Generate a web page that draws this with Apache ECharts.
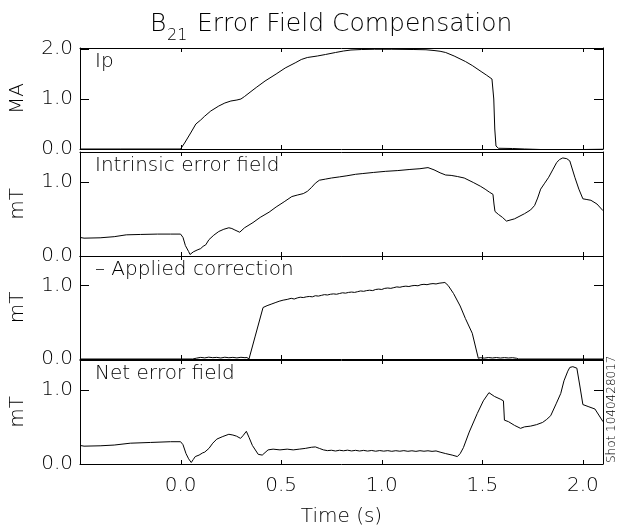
<!DOCTYPE html>
<html><head><meta charset="utf-8">
<script src="https://cdn.jsdelivr.net/npm/echarts@6/dist/echarts.min.js"></script>
<style>html,body{margin:0;padding:0;background:#fff}#c{width:619px;height:531px}</style>
</head><body><div id="c"></div>
<script>
// ---- data ----
const ipT=[-0.5,-0.3,0.0,0.02,0.05,0.076,0.1,0.118,0.15,0.19,0.22,0.25,0.28,0.30,0.318,0.35,0.376,0.42,0.475,0.52,0.573,0.60,0.63,0.68,0.72,0.77,0.81,0.847,0.9,0.965,1.05,1.16,1.22,1.26,1.29,1.318,1.36,1.416,1.45,1.494,1.52,1.548,1.553,1.557,1.562,1.568,1.58,1.65,1.71,1.75,1.79,1.9,2.0,2.1];
const ipV=[0.0,0.0,0.0,0.12,0.32,0.5,0.58,0.65,0.76,0.86,0.92,0.96,0.98,1.0,1.05,1.15,1.23,1.36,1.5,1.62,1.73,1.79,1.83,1.86,1.89,1.93,1.96,1.98,1.99,1.995,1.995,1.99,1.985,1.97,1.955,1.93,1.86,1.75,1.67,1.55,1.48,1.40,1.37,1.0,0.4,0.06,0.015,0.01,0.0,-0.005,-0.01,-0.01,-0.01,-0.005];

const intrT=[-0.5,-0.48,-0.4,-0.33,-0.27,-0.2,-0.114,-0.05,0.0,0.012,0.024,0.04,0.047,0.063,0.082,0.1,0.112,0.125,0.141,0.165,0.19,0.215,0.24,0.255,0.27,0.294,0.318,0.36,0.396,0.44,0.475,0.515,0.553,0.58,0.61,0.63,0.65,0.67,0.69,0.72,0.75,0.79,0.827,0.87,0.906,0.96,1.02,1.08,1.14,1.19,1.23,1.26,1.29,1.318,1.345,1.376,1.41,1.455,1.49,1.514,1.535,1.553,1.558,1.563,1.58,1.60,1.62,1.66,1.71,1.74,1.76,1.775,1.79,1.81,1.83,1.85,1.87,1.885,1.9,1.92,1.935,1.96,1.98,2.0,2.02,2.04,2.07,2.1];
const intrV=[0.25,0.24,0.245,0.26,0.285,0.29,0.295,0.295,0.295,0.25,0.14,0.06,0.02,0.055,0.08,0.1,0.13,0.15,0.22,0.28,0.33,0.36,0.38,0.37,0.35,0.32,0.38,0.45,0.52,0.59,0.66,0.73,0.80,0.82,0.84,0.87,0.92,0.98,1.02,1.035,1.05,1.065,1.08,1.10,1.11,1.125,1.14,1.15,1.165,1.175,1.19,1.16,1.12,1.09,1.085,1.07,1.05,0.99,0.94,0.90,0.86,0.83,0.70,0.60,0.56,0.52,0.47,0.50,0.57,0.62,0.68,0.78,0.90,0.98,1.06,1.16,1.26,1.30,1.32,1.31,1.28,1.06,0.90,0.77,0.76,0.75,0.70,0.61];

const applT=[-0.5,0.06,0.065,0.08,0.1,0.12,0.14,0.16,0.18,0.2,0.22,0.24,0.26,0.28,0.30,0.32,0.33,0.333,0.34,0.37,0.41,0.43,0.45,0.47,0.49,0.51,0.53,0.55,0.565,0.58,0.595,0.61,0.625,0.64,0.655,0.67,0.685,0.70,0.715,0.73,0.745,0.76,0.775,0.79,0.805,0.82,0.835,0.85,0.865,0.88,0.895,0.91,0.925,0.94,0.955,0.97,0.985,1.0,1.015,1.03,1.045,1.06,1.075,1.09,1.105,1.12,1.135,1.15,1.165,1.18,1.195,1.21,1.225,1.24,1.255,1.27,1.285,1.30,1.314,1.33,1.357,1.39,1.416,1.45,1.48,1.49,1.51,1.53,1.55,1.57,1.59,1.61,1.63,1.65,1.67,1.68,2.1];
const applV=[0,0,0.02,0.012,0.022,0.015,0.025,0.018,0.022,0.014,0.024,0.017,0.022,0.015,0.023,0.018,0.02,0.0,0.0,0.3,0.70,0.725,0.745,0.765,0.785,0.80,0.81,0.825,0.815,0.83,0.84,0.835,0.845,0.85,0.845,0.86,0.855,0.865,0.875,0.87,0.88,0.885,0.88,0.89,0.9,0.895,0.905,0.91,0.905,0.915,0.925,0.92,0.93,0.935,0.93,0.945,0.95,0.945,0.96,0.965,0.96,0.97,0.98,0.975,0.985,0.99,0.985,0.995,1.0,0.995,1.01,1.015,1.01,1.02,1.025,1.02,1.03,1.035,1.04,1.0,0.89,0.72,0.55,0.35,0.01,0.018,0.012,0.02,0.014,0.02,0.013,0.019,0.014,0.018,0.01,0,0];

const netT=[-0.5,-0.48,-0.4,-0.33,-0.25,-0.15,-0.05,0.0,0.012,0.027,0.04,0.053,0.063,0.073,0.092,0.11,0.12,0.141,0.16,0.18,0.21,0.24,0.26,0.278,0.298,0.31,0.327,0.34,0.357,0.386,0.406,0.435,0.46,0.494,0.53,0.56,0.59,0.62,0.65,0.67,0.69,0.71,0.73,0.75,0.77,0.79,0.81,0.83,0.85,0.87,0.89,0.91,0.93,0.95,0.97,0.99,1.01,1.03,1.05,1.07,1.09,1.11,1.13,1.15,1.17,1.19,1.21,1.23,1.25,1.27,1.29,1.318,1.35,1.376,1.39,1.406,1.435,1.475,1.505,1.533,1.56,1.592,1.605,1.61,1.63,1.66,1.69,1.71,1.74,1.77,1.8,1.82,1.84,1.867,1.89,1.906,1.925,1.935,1.95,1.97,1.985,2.0,2.03,2.06,2.1];
const netV=[0.25,0.24,0.245,0.255,0.28,0.29,0.30,0.30,0.26,0.14,0.07,0.02,0.06,0.10,0.12,0.15,0.16,0.21,0.28,0.335,0.37,0.40,0.39,0.375,0.345,0.38,0.44,0.36,0.25,0.13,0.12,0.19,0.2,0.19,0.2,0.19,0.2,0.21,0.225,0.23,0.21,0.19,0.18,0.185,0.175,0.185,0.178,0.186,0.176,0.184,0.175,0.183,0.174,0.182,0.172,0.181,0.173,0.18,0.171,0.179,0.172,0.18,0.171,0.178,0.17,0.179,0.172,0.178,0.17,0.176,0.16,0.14,0.12,0.10,0.14,0.22,0.43,0.68,0.85,0.96,0.91,0.87,0.85,0.59,0.57,0.52,0.48,0.50,0.51,0.53,0.56,0.60,0.65,0.81,0.95,1.12,1.25,1.30,1.31,1.29,1.05,0.80,0.77,0.74,0.57];

const xTickValues=[0,0.5,1.0,1.5,2.0];
const xTickLabels=['0.0','0.5','1.0','1.5','2.0'];
const yTickValues=[[0,1,2],[0,1],[0,1],[0,1]];
const panelLabels=['Ip','Intrinsic error field','\u2013 Applied correction','Net error field'];
const yNames=['MA','mT','mT','mT'];
const yMaxes=[2.02,1.4,1.4,1.4];
const titleMain='B', titleSub='21', titleRest='Error Field Compensation';
const xName='Time (s)';
const shotText='Shot 1040428017';

// ---- chart ----
const FONT='DejaVu Sans';
const X_MIN=-0.5, X_MAX=2.1;
const seriesT=[ipT,intrT,applT,netT];
const seriesV=[ipV,intrV,applV,netV];
const layout=[{top:48,height:101},{top:152,height:104},{top:256,height:103},{top:360,height:104}];
const grid=[],xAxis=[],yAxis=[],series=[],graphic=[];
const xFmt=v=>{const s=v.toFixed(1);return xTickLabels.indexOf(s)>=0 && Math.abs(v*2-Math.round(v*2))<1e-6 ? s : '';};
const yFmt=v=>Math.abs(v-Math.round(v))<1e-6 ? v.toFixed(1) : '';
layout.forEach((L,i)=>{
  grid.push({left:80,right:16,top:L.top,height:L.height,show:false});
  const mkX=(pos)=>({gridIndex:i,type:'value',position:pos,min:X_MIN,max:X_MAX,interval:0.5,splitLine:{show:false},
    axisLine:{show:true,onZero:false,lineStyle:{color:'#000',width:1}},axisTick:{show:false}});
  const xb=mkX('bottom');
  xb.axisLabel={show:i===3,formatter:xFmt,fontFamily:FONT,fontSize:20,fontWeight:200,color:'#000',margin:12};
  xb.name=i===3?xName:''; xb.nameLocation='middle'; xb.nameGap=43;
  xb.nameTextStyle={fontFamily:FONT,fontSize:20,fontWeight:200,color:'#000'};
  const xt=mkX('top'); xt.axisLabel={show:false};
  xAxis.push(xb,xt);
  const mkY=(pos)=>({gridIndex:i,type:'value',position:pos,min:0,max:yMaxes[i],interval:1,splitLine:{show:false},
    axisLine:{show:true,onZero:false,lineStyle:{color:'#000',width:1}},axisTick:{show:false}});
  const yl=mkY('left');
  yl.axisLabel={formatter:yFmt,fontFamily:FONT,fontSize:20,fontWeight:200,color:'#000',margin:7,showMaxLabel:false};
  yl.name=yNames[i]; yl.nameLocation='middle'; yl.nameGap=52; yl.nameRotate=90;
  yl.nameTextStyle={fontFamily:FONT,fontSize:20,fontWeight:200,color:'#000'};
  const yr=mkY('right'); yr.axisLabel={show:false};
  yAxis.push(yl,yr);
  series.push({type:'line',xAxisIndex:2*i,yAxisIndex:2*i,showSymbol:false,symbol:'none',
    lineStyle:{color:'#000',width:1},clip:true,
    data:seriesT[i].map((t,k)=>[t,seriesV[i][k]])});
  graphic.push({type:'text',x:95,y:L.top+14,silent:true,
    style:{text:panelLabels[i],font:'200 20px "'+FONT+'"',fill:'#000',verticalAlign:'middle',align:'left'}});
});
graphic.push({type:'text',x:150,y:24,style:{text:titleMain,font:'200 25px "'+FONT+'"',fill:'#000',verticalAlign:'middle',align:'left'}});
graphic.push({type:'text',x:167,y:36,style:{text:titleSub,font:'200 16px "'+FONT+'"',fill:'#000',verticalAlign:'middle',align:'left'}});
graphic.push({type:'text',x:197,y:24,style:{text:titleRest,font:'200 25px "'+FONT+'"',fill:'#000',verticalAlign:'middle',align:'left'}});
graphic.push({type:'text',x:612,y:463,rotation:Math.PI/2,style:{text:shotText,font:'200 12px "'+FONT+'"',fill:'#000',verticalAlign:'middle',align:'left'}});

const chart=echarts.init(document.getElementById('c'),null,{renderer:'canvas'});
chart.setOption({animation:false,backgroundColor:'#fff',grid,xAxis,yAxis,series,graphic});

// inward-pointing tick marks (IDL style) at the axis tick values, positioned via the axes' own scales
const tickGraphics=[];
const YT=9, XT=4;
layout.forEach((L,i)=>{
  const toPx=(t,v)=>chart.convertToPixel({gridIndex:i},[t,v]);
  yTickValues[i].forEach(v=>{
    const pl=toPx(X_MIN,v), pr=toPx(X_MAX,v);
    const y=Math.round(pl[1])+0.5;
    tickGraphics.push({type:'line',silent:true,shape:{x1:pl[0],y1:y,x2:pl[0]+YT,y2:y},style:{stroke:'#000',lineWidth:1}});
    tickGraphics.push({type:'line',silent:true,shape:{x1:pr[0]-YT,y1:y,x2:pr[0],y2:y},style:{stroke:'#000',lineWidth:1}});
  });
  xTickValues.forEach(t=>{
    const pb=toPx(t,0), pt=toPx(t,yMaxes[i]);
    const x=Math.round(pb[0])+0.5;
    tickGraphics.push({type:'line',silent:true,shape:{x1:x,y1:pb[1],x2:x,y2:pb[1]-XT},style:{stroke:'#000',lineWidth:1}});
    tickGraphics.push({type:'line',silent:true,shape:{x1:x,y1:pt[1],x2:x,y2:pt[1]+XT},style:{stroke:'#000',lineWidth:1}});
  });
});
chart.setOption({graphic:graphic.concat(tickGraphics)});
</script></body></html>
